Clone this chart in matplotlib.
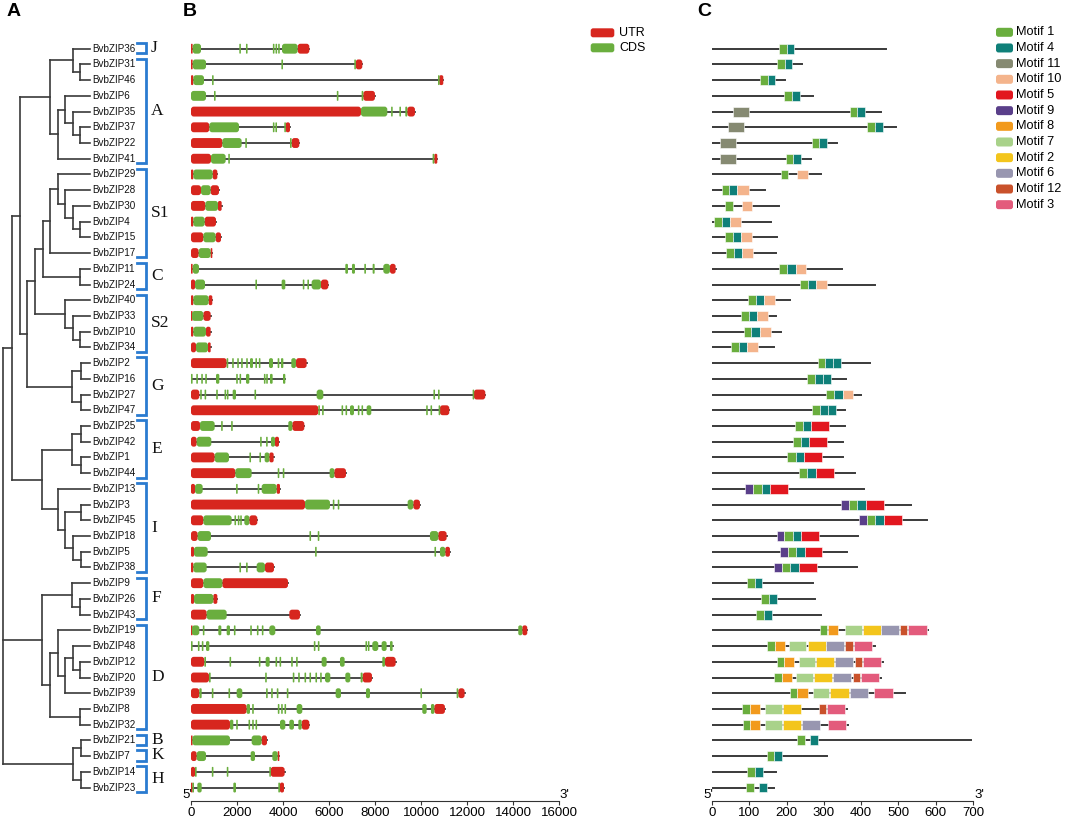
import matplotlib
matplotlib.use('Agg')
import matplotlib.pyplot as plt
from matplotlib.patches import FancyBboxPatch, Rectangle

plt.rcParams['font.family'] = ['Liberation Sans', 'DejaVu Sans']

genes = ['BvbZIP36', 'BvbZIP31', 'BvbZIP46', 'BvbZIP6', 'BvbZIP35', 'BvbZIP37', 'BvbZIP22', 'BvbZIP41',
         'BvbZIP29', 'BvbZIP28', 'BvbZIP30', 'BvbZIP4', 'BvbZIP15', 'BvbZIP17', 'BvbZIP11', 'BvbZIP24',
         'BvbZIP40', 'BvbZIP33', 'BvbZIP10', 'BvbZIP34', 'BvbZIP2', 'BvbZIP16', 'BvbZIP27', 'BvbZIP47',
         'BvbZIP25', 'BvbZIP42', 'BvbZIP1', 'BvbZIP44', 'BvbZIP13', 'BvbZIP3', 'BvbZIP45', 'BvbZIP18',
         'BvbZIP5', 'BvbZIP38', 'BvbZIP9', 'BvbZIP26', 'BvbZIP43', 'BvbZIP19', 'BvbZIP48', 'BvbZIP12',
         'BvbZIP20', 'BvbZIP39', 'BvbZIP8', 'BvbZIP32', 'BvbZIP21', 'BvbZIP7', 'BvbZIP14', 'BvbZIP23']

# tree: (node depth, children); tips are gene names
tree = (3, [
    (12, [
        (20, [
            (50, [
                (73, ['BvbZIP36', (80, ['BvbZIP31', 'BvbZIP46'])]),
                (58, [(65, ['BvbZIP6', (73, ['BvbZIP35', (80, ['BvbZIP37', 'BvbZIP22'])])]), 'BvbZIP41']),
            ]),
            (27, [
                (35, [
                    (43, [
                        (50, [(58, ['BvbZIP29', (65, ['BvbZIP28', (73, ['BvbZIP30', (80, ['BvbZIP4', 'BvbZIP15'])])])]),
                              'BvbZIP17']),
                        (80, ['BvbZIP11', 'BvbZIP24']),
                    ]),
                    (65, ['BvbZIP40', (73, ['BvbZIP33', (80, ['BvbZIP10', 'BvbZIP34'])])]),
                ]),
                (72, [(81, ['BvbZIP2', 'BvbZIP16']), (81, ['BvbZIP27', 'BvbZIP47'])]),
            ]),
        ]),
        (42, [
            (72, [(81, ['BvbZIP25', 'BvbZIP42']), (81, ['BvbZIP1', 'BvbZIP44'])]),
            (58, ['BvbZIP13', (65, [(81, ['BvbZIP3', 'BvbZIP45']), (73, ['BvbZIP18', (81, ['BvbZIP5', 'BvbZIP38'])])])]),
        ]),
    ]),
    (42, [
        (72, ['BvbZIP9', (80, ['BvbZIP26', 'BvbZIP43'])]),
        (50, [(58, ['BvbZIP19', (65, [(73, ['BvbZIP48', (80, ['BvbZIP12', 'BvbZIP20'])]), 'BvbZIP39'])]),
              (80, ['BvbZIP8', 'BvbZIP32'])]),
    ]),
    (73, [(81, ['BvbZIP21', 'BvbZIP7']), (81, ['BvbZIP14', 'BvbZIP23'])]),
])

subfamilies = ['J', 'A', 'S1', 'C', 'S2', 'G', 'E', 'I', 'F', 'D', 'B', 'K', 'H']
subfamily_rows = [(0, 0), (1, 7), (8, 13), (14, 15), (16, 19), (20, 23), (24, 27), (28, 33),
                  (34, 36), (37, 43), (44, 44), (45, 45), (46, 47)]

# gene structures (bp)
utr_segs = [
    [(0, 72), (4637, 5144)],
    [(0, 72), (7158, 7448)],
    [(0, 100), (10795, 10969)],
    [(7491, 7998)],
    [(0, 7390), (9404, 9737)],
    [(0, 797), (4115, 4304)],
    [(0, 1362), (4376, 4709)],
    [(0, 869), (10578, 10708)],
    [(0, 101), (942, 1145)],
    [(0, 435), (855, 1217)],
    [(0, 623), (1174, 1333)],
    [(0, 101), (594, 1087)],
    [(0, 536), (1072, 1304)],
    [(0, 333), (855, 927)],
    [(0, 72), (8651, 8897)],
    [(0, 174), (5651, 5970)],
    [(0, 101), (768, 927)],
    [(0, 43), (536, 855)],
    [(0, 101), (652, 855)],
    [(0, 217), (739, 855)],
    [(0, 1550), (4564, 5028)],
    [],
    [(0, 362), (12302, 12795)],
    [(0, 5535), (10824, 11230)],
    [(0, 391), (4405, 4927)],
    [(0, 246), (3651, 3825)],
    [(0, 1029), (3405, 3594)],
    [(0, 1927), (6231, 6738)],
    [(0, 174), (3724, 3869)],
    [(0, 4956), (9665, 9955)],
    [(0, 536), (2536, 2884)],
    [(0, 290), (10752, 11114)],
    [(0, 130), (11056, 11259)],
    [(0, 101), (3217, 3608)],
    [(0, 536), (1362, 4217)],
    [(0, 130), (971, 1145)],
    [(0, 681), (4275, 4738)],
    [(0, 40), (14403, 14620)],
    [],
    [(0, 580), (8433, 8897)],
    [(0, 782), (7462, 7868)],
    [(0, 362), (11621, 11896)],
    [(0, 2420), (10578, 11041)],
    [(0, 1695), (4811, 5144)],
    [(0, 58), (3072, 3304)],
    [(0, 246), (3767, 3840)],
    [(0, 174), (3463, 4072)],
    [(0, 43), (3869, 4043)],
]

cds_segs = [
    [(72, 435), (2100, 2160), (2390, 2450), (3560, 3600), (3675, 3715), (3790, 3830), (3956, 4637)],
    [(72, 652), (3930, 3990), (7100, 7158)],
    [(100, 565), (915, 970), (10740, 10795)],
    [(0, 652), (1000, 1060), (6340, 6380), (7419, 7491)],
    [(7390, 8535), (8700, 8750), (9060, 9110), (9317, 9404)],
    [(797, 2087), (3560, 3610), (3670, 3720), (4057, 4115)],
    [(1362, 2202), (2360, 2420), (4304, 4376)],
    [(869, 1507), (1620, 1680), (10505, 10578)],
    [(101, 942)],
    [(435, 855)],
    [(623, 1174)],
    [(101, 594)],
    [(536, 1072)],
    [(333, 855)],
    [(72, 348), (6709, 6825), (6999, 7129), (7535, 7607), (7897, 7984), (8361, 8651)],
    [(174, 609), (2800, 2860), (3941, 4101), (4860, 4910), (5060, 5110), (5245, 5651)],
    [(101, 768)],
    [(43, 536)],
    [(101, 652)],
    [(217, 739)],
    [(1550, 1594), (1790, 1830), (2010, 2050), (2180, 2220), (2400, 2440), (2565, 2695), (2800, 2850),
     (2950, 2990), (3391, 3565), (3767, 3840), (3912, 4014), (4361, 4564)],
    [(0, 50), (230, 270), (445, 485), (620, 660), (1087, 1232), (1965, 2005), (2110, 2150), (2391, 2536),
     (3170, 3210), (3270, 3310), (3434, 3550), (4000, 4101)],
    [(400, 440), (590, 630), (1096, 1136), (1458, 1498), (1560, 1600), (1811, 1956), (2760, 2800),
     (5463, 5753), (10540, 10590), (10740, 10790), (12244, 12302)],
    [(5535, 5580), (5700, 5740), (6545, 6585), (6718, 6758), (6912, 7086), (7254, 7294), (7413, 7453),
     (7636, 7839), (10225, 10265), (10413, 10453), (10766, 10824)],
    [(391, 1029), (1310, 1360), (1745, 1795), (4231, 4405)],
    [(246, 884), (3005, 3055), (3265, 3315), (3478, 3651)],
    [(1029, 1652), (2540, 2590), (2975, 3025), (3202, 3405)],
    [(1927, 2637), (3770, 3820), (3990, 4040), (6028, 6231)],
    [(174, 507), (1960, 2010), (2900, 2950), (3072, 3724)],
    [(4956, 6042), (6165, 6210), (6380, 6430), (9419, 9665)],
    [(536, 1768), (1890, 1935), (2035, 2080), (2140, 2180), (2318, 2536)],
    [(290, 869), (5150, 5200), (5510, 5560), (10389, 10752)],
    [(130, 725), (5395, 5445), (10585, 10630), (10824, 11056)],
    [(101, 681), (2105, 2155), (2395, 2445), (2855, 3217)],
    [(536, 1362)],
    [(130, 971)],
    [(681, 1550)],
    [(40, 362), (515, 555), (1188, 1319), (1550, 1695), (1865, 1905), (2575, 2615), (2865, 2905),
     (3080, 3120), (3405, 3666), (5434, 5637), (14229, 14403)],
    [(0, 40), (300, 340), (470, 510), (652, 797), (5340, 5380), (5515, 5555), (7585, 7630), (7690, 7730),
     (7882, 8143), (8288, 8506), (8651, 8766)],
    [(580, 652), (1675, 1715), (2950, 2990), (3246, 3420), (3675, 3715), (3850, 3890), (4355, 4395),
     (4570, 4615), (5680, 5897), (6477, 6680), (8317, 8433)],
    [(782, 855), (3225, 3270), (4425, 4470), (4660, 4705), (4935, 4980), (5150, 5195), (5410, 5455),
     (5615, 5660), (5825, 6057), (6709, 6926), (7375, 7462)],
    [(362, 464), (905, 950), (1630, 1675), (1985, 2231), (3265, 3310), (3485, 3530), (3730, 3775),
     (4165, 4210), (6289, 6521), (7607, 7781), (9975, 10020), (11549, 11621)],
    [(2420, 2565), (2660, 2705), (3775, 3820), (3920, 3965), (4065, 4110), (4593, 4840), (10056, 10244),
     (10433, 10578)],
    [(1695, 1840), (1965, 2010), (2500, 2545), (2660, 2705), (2805, 2850), (3869, 4101), (4275, 4477),
     (4666, 4811)],
    [(58, 1695), (2637, 3072)],
    [(246, 652), (2594, 2782), (3536, 3767)],
    [(174, 246), (905, 955), (1555, 1605), (3405, 3463)],
    [(60, 100), (275, 464), (1840, 1956), (3796, 3869)],
]

# protein lengths (aa) and motif sites (motif, start, end)
prot_len = [468, 242, 196, 272, 454, 493, 335, 266, 291, 143, 181, 159, 175, 171, 349, 438,
            210, 171, 186, 167, 424, 360, 400, 356, 356, 351, 350, 383, 409, 535, 576, 391,
            363, 388, 272, 277, 292, 580, 437, 458, 452, 518, 363, 366, 695, 308, 171, 165]

motif_sites = [
    [(1, 180, 200), (4, 200, 221)],
    [(1, 174, 195), (4, 195, 215)],
    [(1, 129, 149), (4, 149, 170)],
    [(1, 194, 215), (4, 215, 236)],
    [(11, 57, 100), (1, 370, 390), (4, 390, 410)],
    [(11, 44, 87), (1, 417, 437), (4, 437, 458)],
    [(11, 21, 65), (1, 267, 288), (4, 288, 308)],
    [(11, 21, 65), (1, 198, 218), (4, 218, 239)],
    [(1, 184, 205), (10, 229, 257)],
    [(1, 26, 46), (4, 46, 68), (10, 68, 98)],
    [(1, 36, 55), (10, 80, 107)],
    [(1, 6, 27), (4, 27, 48), (10, 48, 79)],
    [(1, 36, 55), (4, 55, 78), (10, 78, 107)],
    [(1, 38, 58), (4, 58, 80), (10, 80, 109)],
    [(1, 181, 202), (4, 202, 224), (10, 224, 253)],
    [(1, 236, 257), (4, 257, 278), (10, 278, 308)],
    [(1, 97, 117), (4, 117, 139), (10, 139, 169)],
    [(1, 79, 99), (4, 99, 122), (10, 122, 151)],
    [(1, 85, 105), (4, 105, 129), (10, 129, 157)],
    [(1, 50, 72), (4, 72, 94), (10, 94, 123)],
    [(1, 283, 304), (4, 304, 325), (4, 325, 347)],
    [(1, 254, 275), (4, 275, 297), (4, 297, 318)],
    [(1, 306, 326), (4, 326, 350), (10, 350, 379)],
    [(1, 268, 289), (4, 289, 310), (4, 310, 332)],
    [(1, 223, 243), (4, 243, 266), (5, 266, 315)],
    [(1, 217, 238), (4, 238, 260), (5, 260, 309)],
    [(1, 202, 224), (4, 224, 246), (5, 246, 294)],
    [(1, 234, 255), (4, 255, 278), (5, 278, 326)],
    [(9, 89, 111), (1, 111, 133), (4, 133, 156), (5, 156, 204)],
    [(9, 347, 368), (1, 368, 390), (4, 390, 412), (5, 412, 460)],
    [(9, 395, 417), (1, 417, 438), (4, 438, 460), (5, 460, 509)],
    [(9, 173, 194), (1, 194, 216), (4, 216, 239), (5, 239, 286)],
    [(9, 182, 204), (1, 204, 226), (4, 226, 249), (5, 249, 296)],
    [(9, 167, 189), (1, 189, 210), (4, 210, 232), (5, 232, 281)],
    [(1, 93, 114), (4, 114, 135)],
    [(1, 131, 152), (4, 152, 173)],
    [(1, 119, 139), (4, 139, 162)],
    [(1, 290, 309), (8, 310, 337), (7, 357, 401), (2, 404, 452), (6, 453, 502), (12, 504, 524), (3, 527, 576)],
    [(1, 148, 170), (8, 170, 196), (7, 207, 253), (2, 257, 306), (6, 306, 355), (12, 358, 379), (3, 380, 430)],
    [(1, 173, 193), (8, 193, 220), (7, 232, 276), (2, 279, 328), (6, 329, 378), (12, 383, 402), (3, 404, 454)],
    [(1, 167, 187), (8, 187, 214), (7, 225, 271), (2, 273, 323), (6, 324, 372), (12, 377, 397), (3, 399, 448)],
    [(1, 209, 229), (8, 229, 257), (7, 271, 315), (2, 317, 368), (6, 369, 418), (3, 435, 485)],
    [(1, 81, 102), (8, 102, 129), (7, 141, 188), (2, 190, 239), (12, 286, 306), (3, 308, 357)],
    [(1, 82, 103), (8, 103, 129), (7, 143, 189), (2, 191, 240), (6, 241, 290), (3, 310, 360)],
    [(1, 229, 249), (4, 264, 284)],
    [(1, 147, 166), (4, 166, 189)],
    [(1, 95, 114), (4, 114, 137)],
    [(1, 91, 112), (4, 127, 148)],
]

motif_order = [1, 4, 11, 10, 5, 9, 8, 7, 2, 6, 12, 3]
motif_colors = {1: '#6aae3e', 4: '#0f8079', 11: '#868a72', 10: '#f4b48c', 5: '#e2171f', 9: '#5a3f8a',
                8: '#f29a1d', 7: '#a9d28a', 2: '#f3c51c', 6: '#9896b0', 12: '#c9512b', 3: '#e35b7c'}

utr_color = '#d7261e'
cds_color = '#6aae3e'
bracket_color = '#2a7bd0'
line_color = '#3a3a3a'

W, H = 1065, 819
fig = plt.figure(figsize=(W / 100, H / 100), dpi=100)

# shared row geometry
row0_px, row_step = 48.7, 15.72
axis_px = 801
ytop = -row0_px / row_step
ybot = (axis_px - row0_px) / row_step
bottom = (H - axis_px) / H
height = axis_px / H

# ---------- A: tree ----------
ax_t = fig.add_axes([0, bottom, 190 / W, height])
ax_t.set_xlim(0, 190)
ax_t.set_ylim(ybot, ytop)
ax_t.axis('off')
tip_x = 90


def draw_node(node, parent_x=None):
    kw = dict(color=line_color, lw=1.2, solid_capstyle='projecting')
    if isinstance(node, str):
        y = genes.index(node)
        ax_t.plot([parent_x, tip_x], [y, y], **kw)
        return y
    x, kids = node
    ys = [draw_node(k, x) for k in kids]
    ax_t.plot([x, x], [min(ys), max(ys)], **kw)
    y = (min(ys) + max(ys)) / 2
    if parent_x is not None:
        ax_t.plot([parent_x, x], [y, y], **kw)
    return y


draw_node(tree)
for i, g in enumerate(genes):
    ax_t.text(92, i, g, va='center', ha='left', fontsize=7.1, color='#111111')

for name, (a, b) in zip(subfamilies, subfamily_rows):
    top, bot = a - 0.36, b + 0.28
    ax_t.plot([137, 146, 146, 137], [top, top, bot, bot], color=bracket_color, lw=2,
              solid_joinstyle='miter')
    ax_t.text(151, (top + bot) / 2, name, va='center', ha='left', fontsize=12.5,
              family=['Liberation Serif', 'DejaVu Serif'], color='#111111')

# ---------- B: gene structure ----------
bx0, bw = 191, 368
ax_b = fig.add_axes([bx0 / W, bottom, bw / W, height])
ax_b.set_xlim(0, 16000)
ax_b.set_ylim(ybot, ytop)
bp_per_px = 16000 / bw
rows_per_px = (ybot - ytop) / axis_px
ma_b = rows_per_px / bp_per_px
box_h = 0.63


def rbox(ax, x0, x1, y, color, ma, r, minw):
    w = max(x1 - x0, minw)
    rr = min(r, w * 0.45)
    ax.add_patch(FancyBboxPatch((x0, y - box_h / 2), w, box_h,
                                boxstyle=f'round,pad=0,rounding_size={rr}',
                                mutation_aspect=ma, fc=color, ec='none', lw=0, clip_on=False))


for i in range(len(genes)):
    segs = utr_segs[i] + cds_segs[i]
    end = max(s[1] for s in segs)
    start = min(s[0] for s in segs)
    ax_b.plot([start, end], [i, i], color=line_color, lw=1.3, zorder=1)
    for s0, s1 in utr_segs[i]:
        rbox(ax_b, s0, s1, i, utr_color, ma_b, 2.8 * bp_per_px, 1.6 * bp_per_px)
    for s0, s1 in cds_segs[i]:
        rbox(ax_b, s0, s1, i, cds_color, ma_b, 2.8 * bp_per_px, 1.6 * bp_per_px)

ax_b.set_xticks(range(0, 16001, 2000))
ax_b.set_yticks([])
for sp in ['top', 'right', 'left']:
    ax_b.spines[sp].set_visible(False)
ax_b.spines['bottom'].set_color('#333333')
ax_b.tick_params(axis='x', length=3, pad=1.5, labelsize=9.5, color='#333333')
ax_b.annotate("5'", xy=(0, 0), xycoords=('data', 'axes fraction'), xytext=(1, 0),
              textcoords='offset points', ha='right', va='bottom', fontsize=9.5)
ax_b.annotate("3'", xy=(16000, 0), xycoords=('data', 'axes fraction'), xytext=(0, 0),
              textcoords='offset points', ha='left', va='bottom', fontsize=9.5)

# ---------- C: motifs ----------
cx0, cw = 712, 261
ax_c = fig.add_axes([cx0 / W, bottom, cw / W, height])
ax_c.set_xlim(0, 700)
ax_c.set_ylim(ybot, ytop)
for i in range(len(genes)):
    ax_c.plot([0, prot_len[i]], [i, i], color=line_color, lw=1.4, zorder=1)
    for m, s0, s1 in motif_sites[i]:
        ax_c.add_patch(Rectangle((s0, i - box_h / 2), s1 - s0, box_h, fc=motif_colors[m],
                                 ec='white', lw=0.4, zorder=2, clip_on=False))
ax_c.set_xticks(range(0, 701, 100))
ax_c.set_yticks([])
for sp in ['top', 'right', 'left']:
    ax_c.spines[sp].set_visible(False)
ax_c.spines['bottom'].set_color('#333333')
ax_c.tick_params(axis='x', length=3, pad=1.5, labelsize=9.5, color='#333333')
ax_c.annotate("5'", xy=(0, 0), xycoords=('data', 'axes fraction'), xytext=(1, 0),
              textcoords='offset points', ha='right', va='bottom', fontsize=9.5)
ax_c.annotate("3'", xy=(700, 0), xycoords=('data', 'axes fraction'), xytext=(1, 0),
              textcoords='offset points', ha='left', va='bottom', fontsize=9.5)

# ---------- overlay: panel letters and legends ----------
ax_o = fig.add_axes([0, 0, 1, 1])
ax_o.set_xlim(0, W)
ax_o.set_ylim(H, 0)
ax_o.axis('off')
for lab, x in [('A', 7), ('B', 183), ('C', 697)]:
    ax_o.text(x, 12, lab, fontsize=14, fontweight='bold', va='center', ha='left')

for k, (lab, col) in enumerate([('UTR', utr_color), ('CDS', cds_color)]):
    yc = 32.8 + 15 * k
    ax_o.add_patch(FancyBboxPatch((590.7, yc - 4.5), 23.6, 9, boxstyle='round,pad=0,rounding_size=2.5',
                                  fc=col, ec='none'))
    ax_o.text(619, yc, lab, fontsize=9, va='center', ha='left')

for k, m in enumerate(motif_order):
    yc = 32.3 + 15.67 * k
    ax_o.add_patch(FancyBboxPatch((996, yc - 4.5), 17, 9, boxstyle='round,pad=0,rounding_size=2.5',
                                  fc=motif_colors[m], ec='none'))
    ax_o.text(1016, yc, f'Motif {m}', fontsize=9.2, va='center', ha='left')

fig.savefig('out.png', dpi=100)
